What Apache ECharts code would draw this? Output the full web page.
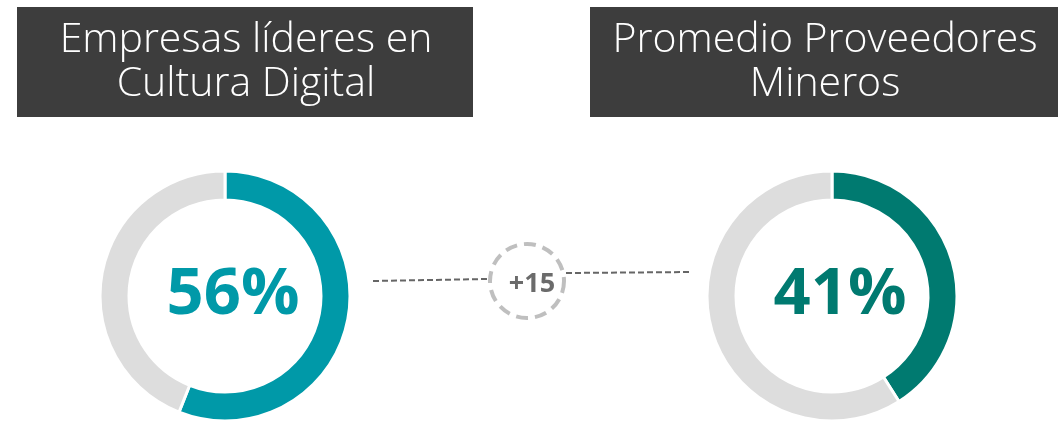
<!DOCTYPE html>
<html>
<head>
<meta charset="utf-8">
<script src="https://cdn.jsdelivr.net/npm/echarts@6/dist/echarts.min.js"></script>
<style>
  html, body { margin: 0; padding: 0; background: #fff; }
  #main { width: 1058px; height: 421px; }
</style>
</head>
<body>
<div id="main"></div>
<script>
  // datos
  var groups = ['Empresas líderes en\nCultura Digital', 'Promedio Proveedores\nMineros'];
  var values = [56, 41];
  var colors = ['#0099A8', '#007A70'];
  var diffLabel = '+' + (values[0] - values[1]);

  var chart = echarts.init(document.getElementById('main'));

  var centers = [[225, 296], [832, 296]];

  var series = values.map(function (v, i) {
    return {
      type: 'pie',
      center: centers[i],
      radius: [96, 125],
      startAngle: 90,
      clockwise: true,
      silent: true,
      label: { show: false },
      labelLine: { show: false },
      itemStyle: { borderColor: '#fff', borderWidth: 3 },
      data: [
        { value: v, itemStyle: { color: colors[i] } },
        { value: 100 - v, itemStyle: { color: '#DDDDDD' } }
      ]
    };
  });

  var titles = values.map(function (v, i) {
    return {
      text: v + '%',
      left: centers[i][0] + 3,
      top: centers[i][1] - 6,
      textAlign: 'center',
      textVerticalAlign: 'middle',
      textStyle: {
        fontFamily: 'Open Sans',
        fontWeight: 'bold',
        fontSize: 65,
        color: colors[i]
      }
    };
  });

  var option = {
    backgroundColor: '#fff',
    animation: false,
    title: titles,
    series: series,
    graphic: [
      // cajas de titulo
      { type: 'rect', shape: { x: 17, y: 7, width: 456, height: 110 }, style: { fill: '#3D3D3D' } },
      { type: 'rect', shape: { x: 590, y: 7, width: 468, height: 110 }, style: { fill: '#3D3D3D' } },
      {
        type: 'text', x: 246, y: 62,
        style: {
          text: groups[0], fill: '#fff', font: '300 41px "Open Sans"',
          align: 'center', verticalAlign: 'middle', lineHeight: 44
        }
      },
      {
        type: 'text', x: 825, y: 62,
        style: {
          text: groups[1], fill: '#fff', font: '300 41px "Open Sans"',
          align: 'center', verticalAlign: 'middle', lineHeight: 44
        }
      },
      // lineas punteadas
      {
        type: 'line', shape: { x1: 373, y1: 281, x2: 488, y2: 279 },
        style: { stroke: '#666', lineWidth: 2, lineDash: [6, 3] }
      },
      {
        type: 'line', shape: { x1: 566, y1: 273, x2: 691, y2: 272 },
        style: { stroke: '#666', lineWidth: 2, lineDash: [6, 3] }
      },
      // circulo de diferencia
      {
        type: 'circle', shape: { cx: 527, cy: 281, r: 37 },
        style: { fill: '#fff', stroke: '#BFBFBF', lineWidth: 4, lineDash: [12, 7] }
      },
      {
        type: 'text', x: 532, y: 284,
        style: {
          text: diffLabel, fill: '#6B6B6B', font: 'bold 27px "Open Sans"',
          align: 'center', verticalAlign: 'middle'
        }
      }
    ]
  };

  chart.setOption(option);
</script>
</body>
</html>
